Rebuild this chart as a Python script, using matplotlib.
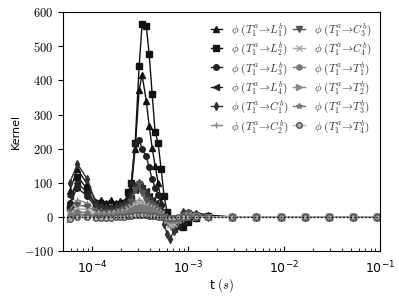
import numpy as np
import matplotlib
matplotlib.use('Agg')
import matplotlib.pyplot as plt
from matplotlib.ticker import FuncFormatter

plt.rcParams['mathtext.fontset'] = 'cm'

# time grid (s)
t = [5.8e-5, 7.0e-5, 8.9e-5, 1.10e-4, 1.24e-4, 1.40e-4, 1.58e-4, 1.78e-4, 1.96e-4, 2.15e-4,
     2.37e-4, 2.55e-4, 2.80e-4, 3.08e-4, 3.31e-4, 3.65e-4, 3.92e-4, 4.21e-4, 4.52e-4, 4.86e-4,
     5.23e-4, 5.61e-4, 6.03e-4, 6.48e-4, 7.13e-4, 7.85e-4, 8.85e-4, 1.0e-3, 1.21e-3, 1.61e-3,
     2.9e-3, 5.1e-3, 9.3e-3, 1.66e-2, 2.96e-2, 5.3e-2, 9.4e-2]

tail = [0, 0, 0, 0, 0, 0, 0]
L1 = [75, 140, 95, 45, 50, 42, 50, 40, 48, 45, 55, 80, 200, 372, 416, 341, 267, 203, 150, 100,
      40, 10, 2, -5, -8, -5, 5, 15, 12, 5] + tail
L2 = [25, 118, 81, 30, 28, 25, 25, 28, 30, 40, 74, 99, 216, 441, 566, 560, 478, 361, 249, 216,
      140, 60, 15, -5, -15, -25, -30, -15, -3, 2] + tail
L3 = [40, 85, 60, 25, 20, 18, 20, 22, 25, 30, 45, 100, 215, 225, 200, 177, 145, 110, 86, 65,
      35, 10, 0, -3, -5, -3, 3, 8, 5, 2] + tail
L4 = [60, 100, 70, 30, 25, 22, 22, 25, 28, 32, 40, 55, 80, 95, 85, 75, 60, 50, 40, 30,
      15, 5, -10, -25, -35, -30, -15, -5, 0, 0] + tail
C1 = [100, 155, 110, 35, 30, 25, 25, 28, 32, 38, 45, 60, 90, 100, 90, 70, 55, 45, 35, 25,
      10, -20, -50, -65, -40, -10, 15, 10, 5, 0] + tail
C2 = [20, 50, 40, 20, 18, 15, 15, 18, 20, 22, 28, 35, 45, 50, 45, 40, 35, 30, 25, 20,
      10, 0, -15, -30, -25, -15, -5, 0, 0, 0] + tail
C3 = [15, 35, 30, 15, 12, 10, 12, 15, 18, 22, 30, 45, 80, 95, 70, 50, 40, 35, 28, 20,
      10, 0, -10, -20, -15, -5, 5, 10, 5, 0] + tail
C4 = [10, 25, 20, 10, 8, 8, 10, 12, 14, 18, 22, 28, 35, 40, 38, 35, 30, 25, 20, 15,
      8, 0, -10, -25, -20, -10, 0, 5, 2, 0] + tail
T1 = [5, 15, 12, 5, 5, 5, 6, 8, 10, 12, 15, 20, 25, 30, 28, 25, 22, 20, 15, 10,
      5, 0, -5, -10, -8, -5, 0, 3, 2, 0] + tail
T2 = [-5, 5, 3, 0, 0, 2, 3, 5, 6, 8, 10, 12, 15, 18, 18, 16, 14, 12, 10, 8,
      5, 0, -3, -5, -5, -2, 0, 2, 0, 0] + tail
T3 = [0, 10, 5, 2, 2, 3, 4, 5, 6, 8, 10, 14, 18, 22, 20, 18, 15, 12, 10, 6,
      3, 0, -2, -5, -4, -2, 0, 2, 1, 0] + tail
T4 = [-5, 0, 0, -3, -3, -2, -2, -1, 0, 0, 2, 3, 5, 6, 6, 5, 4, 3, 2, 1,
      0, -1, -2, -3, -2, -1, 0, 0, 0, 0] + tail

series = [L1, L2, L3, L4, C1, C2, C3, C4, T1, T2, T3, T4]
names = ['L_1', 'L_2', 'L_3', 'L_4', 'C_1', 'C_2', 'C_3', 'C_4', 'T_1', 'T_2', 'T_3', 'T_4']
markers = ['^', 's', 'o', '<', 'd', '+', 'v', 'x', 'h', '>', '*', 'o']
colors = ['#111111', '#111111', '#222222', '#222222', '#333333', '#888888',
          '#555555', '#aaaaaa', '#777777', '#888888', '#777777', '#b0b0b0']
edges = colors[:-1] + ['#555555']

fig = plt.figure(figsize=(3.99, 2.96), dpi=100)
ax = fig.add_axes([0.159, 0.152, 0.793, 0.807])

for y, n, m, c, e in zip(series, names, markers, colors, edges):
    ax.plot(t, y, marker=m, color=c, ms=4, lw=1, mec=e,
            label=r'$\phi\ (T_1^a\!\to\!%s^b)$' % n)

ax.axhline(0, color='k', ls=':', lw=1, zorder=5)

ax.set_xscale('log')
ax.set_xlim(5e-5, 1e-1)
ax.set_ylim(-100, 600)
ax.set_yticks(range(-100, 601, 100))
ax.yaxis.set_major_formatter(FuncFormatter(lambda v, p: r'$%d$' % v))
ax.tick_params(axis='both', labelsize=9)
ax.tick_params(axis='x', which='both', direction='in', pad=6)
ax.set_xlabel(r't $(s)$', fontsize=9, labelpad=0)
ax.set_ylabel('Kernel', fontsize=8, labelpad=2)

leg = ax.legend(ncol=2, loc='upper right', fontsize=8, frameon=False,
                handlelength=1.05, handletextpad=0.8, columnspacing=0.4,
                labelspacing=0.22, borderaxespad=0.4)
for txt in leg.get_texts():
    txt.set_color('#333333')

fig.savefig('out.png', dpi=100)
